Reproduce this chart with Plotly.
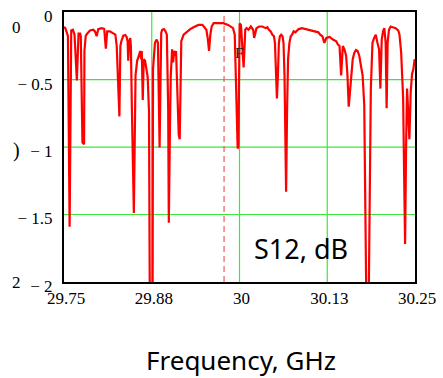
import plotly.graph_objects as go

# S12 transmission (dB) versus frequency (GHz)
freq_ghz = [
    29.7500, 29.7519, 29.7542, 29.7556, 29.7580, 29.7603, 29.7627, 29.7650, 29.7683, 29.7707,
    29.7730, 29.7739, 29.7763, 29.7786, 29.7791, 29.7810, 29.7838, 29.7871, 29.7918, 29.7941,
    29.7965, 29.7988, 29.8035, 29.8073, 29.8096, 29.8115, 29.8153, 29.8200, 29.8232, 29.8251,
    29.8270, 29.8289, 29.8303, 29.8317, 29.8345, 29.8373, 29.8392, 29.8406, 29.8415, 29.8430,
    29.8444, 29.8453, 29.8467, 29.8495, 29.8519, 29.8542, 29.8566, 29.8585, 29.8599, 29.8608,
    29.8622, 29.8636, 29.8655, 29.8678, 29.8692, 29.8711, 29.8725, 29.8761, 29.8768, 29.8796,
    29.8819, 29.8838, 29.8862, 29.8876, 29.8885, 29.8899, 29.8923, 29.8946, 29.8965, 29.8984,
    29.8993, 29.9007, 29.9021, 29.9040, 29.9054, 29.9068, 29.9077, 29.9087, 29.9096, 29.9115,
    29.9134, 29.9148, 29.9162, 29.9171, 29.9204, 29.9251, 29.9298, 29.9345, 29.9415, 29.9472,
    29.9500, 29.9528, 29.9547, 29.9566, 29.9585, 29.9603, 29.9632, 29.9697, 29.9768, 29.9838,
    29.9908, 29.9932, 29.9946, 29.9974, 29.9984, 30.0002, 30.0021, 30.0035, 30.0045, 30.0059,
    30.0073, 30.0082, 30.0101, 30.0129, 30.0162, 30.0195, 30.0209, 30.0223, 30.0242, 30.0279,
    30.0326, 30.0373, 30.0397, 30.0420, 30.0444, 30.0467, 30.0491, 30.0505, 30.0519, 30.0533,
    30.0547, 30.0561, 30.0575, 30.0594, 30.0613, 30.0627, 30.0641, 30.0655, 30.0664, 30.0678,
    30.0692, 30.0711, 30.0730, 30.0749, 30.0772, 30.0796, 30.0819, 30.0843, 30.0890, 30.0937,
    30.0984, 30.1031, 30.1077, 30.1124, 30.1148, 30.1181, 30.1209, 30.1228, 30.1237, 30.1284,
    30.1331, 30.1378, 30.1401, 30.1425, 30.1448, 30.1472, 30.1495, 30.1519, 30.1538, 30.1556,
    30.1575, 30.1589, 30.1613, 30.1636, 30.1660, 30.1683, 30.1707, 30.1730, 30.1754, 30.1777,
    30.1824, 30.1871, 30.1894, 30.1918, 30.1941, 30.1965, 30.1988, 30.2007, 30.2026, 30.2045,
    30.2063, 30.2082, 30.2096, 30.2110, 30.2129, 30.2153, 30.2186, 30.2223, 30.2261, 30.2279,
    30.2303, 30.2317, 30.2331, 30.2345, 30.2359, 30.2373, 30.2387, 30.2401, 30.2420, 30.2439,
    30.2458, 30.2477, 30.2495,
]

s12_db = [
    -0.110, -0.119, -0.155, -0.179, -1.590, -0.136, -0.131, -0.167, -0.507, -0.160,
    -0.160, -0.179, -0.967, -0.979, -0.288, -0.175, -0.155, -0.136, -0.131, -0.143,
    -0.179, -0.126, -0.119, -0.124, -0.272, -0.143, -0.143, -0.155, -0.167, -0.252,
    -0.543, -0.773, -0.252, -0.216, -0.175, -0.170, -0.184, -0.216, -0.361, -0.216,
    -0.192, -0.252, -0.713, -1.488, -0.470, -0.361, -0.325, -0.288, -0.349, -0.288,
    -0.652, -0.349, -0.361, -0.458, -0.482, -0.737, -2.500, -2.500, -0.422, -0.228,
    -0.204, -0.228, -1.004, -0.470, -0.155, -0.131, -0.126, -0.143, -0.167, -0.713,
    -1.561, -0.955, -0.470, -0.276, -0.373, -0.301, -0.288, -0.325, -0.288, -0.592,
    -0.907, -0.943, -0.470, -0.216, -0.167, -0.143, -0.126, -0.112, -0.095, -0.095,
    -0.112, -0.131, -0.192, -0.288, -0.167, -0.107, -0.082, -0.080, -0.082, -0.095,
    -0.119, -0.167, -0.450, -1.010, -1.000, -0.085, -0.095, -0.179, -0.301, -0.410,
    -0.252, -0.131, -0.119, -0.131, -0.107, -0.131, -0.192, -0.155, -0.119, -0.107,
    -0.107, -0.119, -0.112, -0.131, -0.143, -0.167, -0.179, -0.228, -0.398, -0.640,
    -0.470, -0.228, -0.179, -0.167, -0.179, -0.228, -0.470, -0.955, -1.331, -0.713,
    -0.349, -0.228, -0.179, -0.167, -0.143, -0.150, -0.136, -0.126, -0.119, -0.126,
    -0.131, -0.136, -0.143, -0.150, -0.167, -0.179, -0.228, -0.204, -0.192, -0.184,
    -0.204, -0.216, -0.240, -0.252, -0.470, -0.252, -0.276, -0.325, -0.470, -0.701,
    -0.592, -0.470, -0.349, -0.301, -0.281, -0.288, -0.325, -0.398, -0.470, -0.688,
    -3.000, -0.567, -0.228, -0.192, -0.167, -0.228, -0.276, -0.567, -0.204, -0.143,
    -0.119, -0.228, -0.713, -0.228, -0.131, -0.107, -0.112, -0.119, -0.136, -0.167,
    -0.301, -0.470, -0.640, -1.198, -1.719, -1.004, -0.567, -0.713, -0.943, -0.592,
    -0.458, -0.422, -0.349,
]

x_tick_vals = [29.75, 29.875, 30.0, 30.125, 30.25]
x_tick_text = ["29.75", "29.88", "30", "30.13", "30.25"]
y_tick_vals = [0, -0.5, -1, -1.5, -2]
y_tick_text = ["0", "\u2212 0.5", "\u2212 1", "\u2212 1.5", "\u2212 2"]
x_grid = [29.875, 30.0, 30.125]
y_grid = [-0.5, -1.0, -1.5]

marker_freq = 29.978
marker_label_pos = (29.9993, -0.305)
title_pos = (30.088, -1.753)

SERIF = "Liberation Serif, Times New Roman, serif"
HAND = "Comic Sans MS, Noto Sans, sans-serif"
GRID = "#3ae83a"

fig = go.Figure()

# green grid, drawn under the trace
for gx in x_grid:
    fig.add_shape(type="line", xref="x", yref="paper", x0=gx, x1=gx, y0=0, y1=1,
                  layer="below", line=dict(color=GRID, width=1.2))
for gy in y_grid:
    fig.add_shape(type="line", xref="paper", yref="y", x0=0, x1=1, y0=gy, y1=gy,
                  layer="below", line=dict(color=GRID, width=1.2))

fig.add_trace(go.Scatter(
    x=freq_ghz, y=s12_db, mode="lines",
    line=dict(color="#ff0000", width=2.2),
    showlegend=False, hoverinfo="skip",
))

# dashed marker line
fig.add_shape(type="line", xref="x", yref="paper",
              x0=marker_freq, x1=marker_freq, y0=0, y1=1,
              line=dict(color="rgba(240,80,80,0.75)", width=1.5, dash="6px,4px"))

fig.add_annotation(x=marker_label_pos[0], y=marker_label_pos[1], text="F",
                   showarrow=False, font=dict(family=SERIF, size=15, color="#222222"))

fig.add_annotation(x=title_pos[0], y=title_pos[1], text="S12, dB", showarrow=False,
                   xanchor="center", yanchor="middle",
                   font=dict(family=HAND, size=27, color="black"))

# clipped fragments of an outer label column
for txt, yy in [("0", 23), (")", 148), ("2", 282)]:
    fig.add_annotation(xref="paper", yref="paper", x=-(64 - 16) / 355,
                       y=1 - (yy - 7) / 275, text=txt, showarrow=False,
                       xanchor="center", yanchor="middle",
                       font=dict(family=SERIF, size=20 if txt == ")" else 17, color="black"))

fig.add_annotation(xref="paper", yref="paper", x=(243 - 64) / 355, y=1 - (361 - 7) / 275,
                   text="Frequency, GHz", showarrow=False, xanchor="center", yanchor="middle",
                   font=dict(family=HAND, size=26, color="black"))

fig.update_layout(
    width=443, height=378,
    margin=dict(l=64, r=24, t=7, b=96),
    paper_bgcolor="white", plot_bgcolor="white",
    xaxis=dict(range=[29.75, 30.25], tickvals=x_tick_vals, ticktext=x_tick_text,
               showgrid=False,
               showline=True, linecolor="black", linewidth=2, mirror=True,
               ticks="", ticklabelshift=2,
               tickfont=dict(family=SERIF, size=17, color="black"), zeroline=False),
    yaxis=dict(range=[-2, 0.0005], tickvals=y_tick_vals, ticktext=y_tick_text,
               showgrid=False,
               showline=True, linecolor="black", linewidth=2, mirror=True,
               ticks="", ticklabelshift=4, ticklabelstandoff=6,
               tickfont=dict(family=SERIF, size=17, color="black"), zeroline=False),
)

fig.write_html("out.html")
